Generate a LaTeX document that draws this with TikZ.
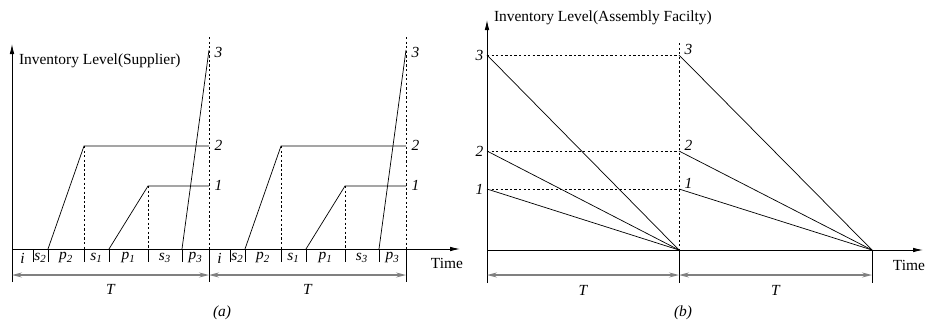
\documentclass[tikz,border=0pt]{standalone}
\usepackage{fontspec}
\setmainfont{Liberation Serif}
\usetikzlibrary{arrows.meta,positioning}

\newcommand{\figfont}{\fontsize{10.8}{13}\selectfont}
\newcommand{\ivar}[2]{\textit{#1\textsubscript{#2}}}

\begin{document}
\begin{tikzpicture}[x=0.7pt,y=-0.7pt,
    every node/.style={font=\figfont},
    axis/.style={-{Latex[length=7pt,width=3.2pt]},line width=0.6pt},
    dimline/.style={{Stealth[length=7pt,width=3.5pt,inset=2.5pt]}-{Stealth[length=7pt,width=3.5pt,inset=2.5pt]},gray,line width=1pt},
    level/.style={line width=0.5pt},
    guide/.style={dashed,dash pattern=on 1.6pt off 1.6pt,line width=0.5pt},
    lvl/.style={font=\figfont\itshape,inner sep=1pt}]
  \useasboundingbox (0,0) rectangle (926,322);

  % ---- (a) supplier ----
  \draw[axis] (12,282) -- (12,44);
  \draw[axis] (12,249) -- (460,249);
  \node (timeA) at (447,263) {Time};
  \node[anchor=west] (titleA) at (14,61) {Inventory Level(Supplier)};
  \foreach \o in {12,209} {
    % ticks under the time axis
    \foreach \t in {21,36,72,97,136,170}
      \draw (\o+\t,249) -- (\o+\t,262);
    \node at (\o+10.5,258) {\textit{i}};
    \node at (\o+28.5,258) {\ivar{s}{2}};
    \node at (\o+54,258) {\ivar{p}{2}};
    \node at (\o+84.5,258) {\ivar{s}{1}};
    \node at (\o+116.5,258) {\ivar{p}{1}};
    \node at (\o+153,258) {\ivar{s}{3}};
    \node at (\o+183.5,258) {\ivar{p}{3}};
    % product 2
    \draw[level] (\o+36,249) -- (\o+72,146) -- (\o+197,146);
    \draw[guide] (\o+72,146) -- (\o+72,249);
    % product 1
    \draw[level] (\o+97,249) -- (\o+136,186) -- (\o+197,186);
    \draw[guide] (\o+136,186) -- (\o+136,249);
    % product 3
    \draw[level] (\o+170,249) -- (\o+197,50);
    % end of period
    \draw[guide] (\o+197,37) -- (\o+197,249);
    \draw (\o+197,249) -- (\o+197,282);
    \node[lvl,anchor=west] at (\o+201,52) {3};
    \node[lvl,anchor=west] at (\o+201,145) {2};
    \node[lvl,anchor=west] at (\o+201,185) {1};
    \draw[dimline] (\o,275) -- (\o+197,275);
    \node[lvl] at (\o+98.5,289) {T};
  }
  \node[lvl] (capA) at (222,313) {(a)};

  % ---- (b) assembly facility ----
  \draw[axis] (487,283) -- (487,20);
  \draw[axis] (487,250) -- (923,250);
  \node (timeB) at (909,265) {Time};
  \node[anchor=west] (titleB) at (489,18) {Inventory Level(Assembly Facilty)};
  \coordinate (endB1) at (679,250);
  \coordinate (endB2) at (872,250);
  \foreach \l/\y in {3/55,2/151,1/189} {
    \draw[guide] (487,\y) -- (679,\y);
    \draw[level] (487,\y) -- (endB1);
    \draw[level] (679,\y) -- (endB2);
    \node[lvl,anchor=east] at (485,\y) {\l};
    \node[lvl,anchor=west] at (683,\y-6) {\l};
  }
  \draw[guide] (679,43) -- (endB1);
  \draw (endB1) -- (679,283);
  \draw (endB2) -- (872,283);
  \draw[dimline] (487,275) -- (679,275);
  \draw[dimline] (679,275) -- (872,275);
  \node[lvl] at (583,290) {T};
  \node[lvl] at (775.5,290) {T};
  \node[lvl] (capB) at (683,313) {(b)};
\end{tikzpicture}
\end{document}
